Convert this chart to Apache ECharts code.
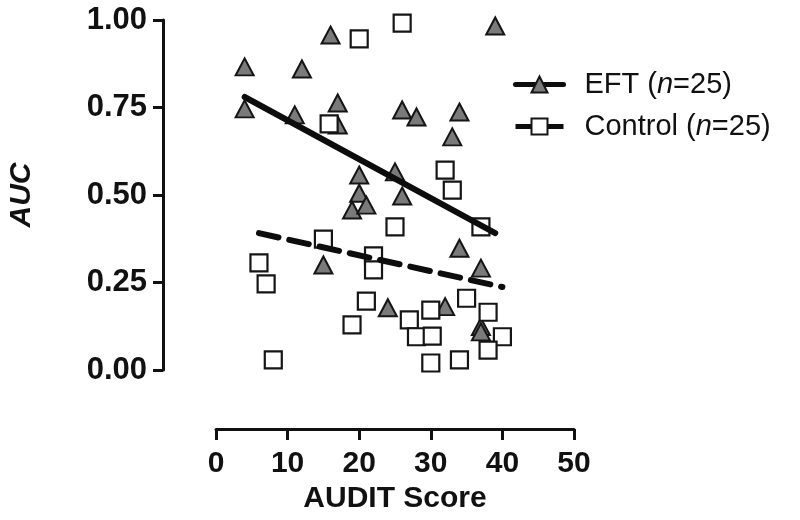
<!DOCTYPE html>
<html>
<head>
<meta charset="utf-8">
<script src="https://cdn.jsdelivr.net/npm/echarts@6/dist/echarts.min.js"></script>
<style>html,body{margin:0;padding:0;background:#fff}#c{width:800px;height:520px}</style>
</head>
<body>
<div id="c"></div>
<script>
// EFT group (triangles): AUDIT score, AUC
var eftX = [4, 4, 11, 12, 16, 17, 17, 20, 20, 19, 21, 15, 39, 26, 28, 34, 33, 25, 26, 34, 37, 24, 32, 37, 37];
var eftY = [0.866, 0.746, 0.729, 0.86, 0.957, 0.763, 0.70, 0.557, 0.505, 0.457, 0.471, 0.30, 0.983, 0.743, 0.723, 0.737, 0.666, 0.566, 0.497, 0.348, 0.291, 0.178, 0.181, 0.124, 0.109];
// Control group (squares)
var ctlX = [20, 26, 15.8, 32, 33, 25, 37, 15, 6, 7, 22, 22, 21, 19, 8, 30, 35, 38, 27, 28, 30.2, 40, 38, 30, 34];
var ctlY = [0.946, 0.991, 0.703, 0.571, 0.514, 0.409, 0.409, 0.374, 0.306, 0.246, 0.326, 0.286, 0.197, 0.129, 0.029, 0.171, 0.205, 0.165, 0.143, 0.095, 0.097, 0.095, 0.057, 0.02, 0.029];
// Regression line endpoints
var eftFitX = [4, 39];
var eftFitY = [0.78, 0.391];
var ctlFitX = [6, 40];
var ctlFitY = [0.391, 0.237];
var xTicks = [0, 10, 20, 30, 40, 50];
var yTicks = [0, 0.25, 0.5, 0.75, 1.0];

function pairs(xs, ys) { return xs.map(function (x, i) { return [x, ys[i]]; }); }
function fitPairs(xs, ys) { return xs.map(function (x, i) { return { value: [x, ys[i]], symbol: 'none' }; }); }

var FONT = 'Liberation Sans, Arial, Helvetica, sans-serif';
var chart = echarts.init(document.getElementById('c'), null, { renderer: 'canvas' });
chart.setOption({
  animation: false,
  backgroundColor: '#fff',
  grid: { left: 216, right: 226, top: 20, bottom: 150, containLabel: false },
  legend: {
    data: ['EFT', 'Control'],
    orient: 'vertical',
    left: 508,
    top: 65,
    itemWidth: 48,
    itemHeight: 20,
    itemGap: 13,
    lineStyle: { width: 5 },
    formatter: function (name) { return '{a|' + name + ' (}{i|n}{a|=25)}'; },
    textStyle: {
      padding: [0, 0, 0, 16],
      rich: {
        a: { fontSize: 29, fontFamily: FONT, color: '#111' },
        i: { fontSize: 29, fontFamily: FONT, color: '#111', fontStyle: 'italic' }
      }
    }
  },
  xAxis: {
    type: 'value', min: xTicks[0], max: xTicks[xTicks.length - 1], interval: 10,
    offset: 59,
    name: 'AUDIT Score', nameLocation: 'middle', nameGap: 52,
    nameTextStyle: { fontSize: 30, fontWeight: 'bold', fontFamily: FONT, color: '#111' },
    axisLine: { show: true, onZero: false, lineStyle: { color: '#111', width: 3 } },
    axisTick: { show: true, length: 11, lineStyle: { color: '#111', width: 3 } },
    axisLabel: { fontSize: 30, fontWeight: 'bold', fontFamily: FONT, color: '#111', margin: 20 },
    splitLine: { show: false }
  },
  yAxis: {
    type: 'value', min: yTicks[0], max: yTicks[yTicks.length - 1], interval: 0.25,
    offset: 53,
    name: 'AUC', nameLocation: 'middle', nameGap: 126,
    nameTextStyle: { fontSize: 30, fontWeight: 'bold', fontStyle: 'italic', fontFamily: FONT, color: '#111' },
    axisLine: { show: true, onZero: false, lineStyle: { color: '#111', width: 3 } },
    axisTick: { show: true, length: 10, lineStyle: { color: '#111', width: 3 } },
    axisLabel: { fontSize: 31, fontWeight: 'bold', fontFamily: FONT, color: '#111', margin: 16,
      formatter: function (v) { return v.toFixed(2); } },
    splitLine: { show: false }
  },
  series: [
    {
      name: 'EFT points', type: 'scatter', symbol: 'triangle', symbolSize: [18, 17],
      itemStyle: { color: '#7a7a7a', borderColor: '#151515', borderWidth: 2, opacity: 1 },
      data: pairs(eftX, eftY), z: 2
    },
    {
      name: 'Control points', type: 'scatter', symbol: 'rect', symbolSize: 17,
      itemStyle: { color: '#fff', borderColor: '#151515', borderWidth: 2.2, opacity: 1 },
      data: pairs(ctlX, ctlY), z: 2
    },
    {
      name: 'EFT', type: 'line', symbol: 'triangle', symbolSize: 16,
      lineStyle: { color: '#0d0d0d', width: 6, type: 'solid', cap: 'round' },
      itemStyle: { color: '#7a7a7a', borderColor: '#151515', borderWidth: 1.5 },
      data: fitPairs(eftFitX, eftFitY), z: 3
    },
    {
      name: 'Control fit', type: 'line', symbol: 'none',
      lineStyle: { color: '#0d0d0d', width: 6, type: [20, 11], cap: 'round' },
      data: fitPairs(ctlFitX, ctlFitY), z: 3
    },
    {
      // legend entry for the control group (solid line with square marker)
      name: 'Control', type: 'line', symbol: 'rect', symbolSize: 16,
      lineStyle: { color: '#0d0d0d', width: 5, type: 'solid' },
      itemStyle: { color: '#fff', borderColor: '#151515', borderWidth: 1.5 },
      data: []
    }
  ]
});
</script>
</body>
</html>
